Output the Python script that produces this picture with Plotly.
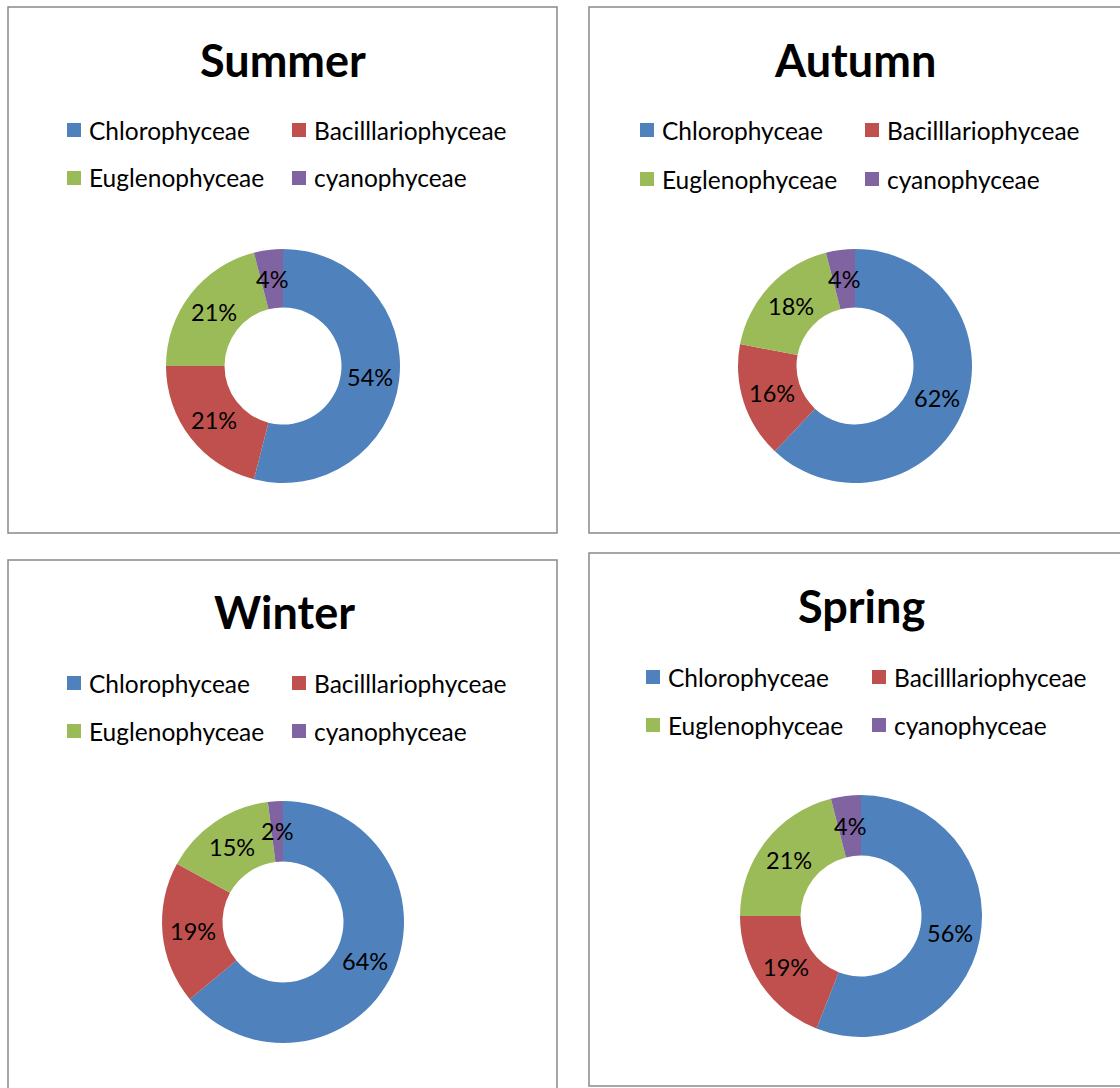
import math
import plotly.graph_objects as go

# Phytoplankton class composition (%) by season
categories = ["Chlorophyceae", "Bacilllariophyceae", "Euglenophyceae", "cyanophyceae"]
seasons = ["Summer", "Autumn", "Winter", "Spring"]
summer = [54, 21, 21, 4]
autumn = [62, 16, 18, 4]
winter = [64, 19, 15, 2]
spring = [56, 19, 21, 4]
colors = ["#4F81BD", "#C0504D", "#9BBB59", "#8064A2"]

W, H = 1120, 1088
FONT = "Lato"
HOLE = 0.5

# panel geometry in pixels (left, top, right, bottom), donut centre / radius,
# title centre, legend anchor (swatch left x for both columns, row centres)
panels = [
    dict(values=summer, box=(8, 7, 557, 533), c=(283, 366), r=117, t=(283, 60), lg=(67, 130, 292, 178)),
    dict(values=autumn, box=(589, 7, 1126, 533), c=(855, 366), r=117, t=(855, 60), lg=(640, 130, 865, 179)),
    dict(values=winter, box=(8, 560, 557, 1096), c=(283, 922), r=121, t=(284, 612), lg=(67, 683, 292, 731)),
    dict(values=spring, box=(589, 553, 1126, 1086), c=(861, 916), r=121, t=(861, 606), lg=(646, 677, 872, 725)),
]


def px(x):
    return x / W


def py(y):
    return 1 - y / H


fig = go.Figure()
shapes = []
annotations = []

for name, p in zip(seasons, panels):
    cx, cy = p["c"]
    r = p["r"]
    vals = p["values"]
    fig.add_trace(go.Pie(
        labels=categories,
        values=vals,
        name=name,
        hole=HOLE,
        sort=False,
        direction="clockwise",
        rotation=0,
        marker=dict(colors=colors, line=dict(width=0)),
        textinfo="none",
        showlegend=False,
        domain=dict(x=[px(cx - r), px(cx + r)], y=[py(cy + r), py(cy - r)]),
    ))

    # percentage labels centred in the ring, at each slice's mid-angle
    total = float(sum(vals))
    r_mid = r * (1 + HOLE) / 2
    acc = 0.0
    for v in vals:
        mid = (acc + v / 2) / total * 2 * math.pi
        acc += v
        lx = cx + r_mid * math.sin(mid)
        ly = cy - r_mid * math.cos(mid)
        annotations.append(dict(text="%d%%" % round(100 * v / total), x=px(lx), y=py(ly),
                                xref="paper", yref="paper", showarrow=False,
                                xanchor="center", yanchor="middle",
                                font=dict(family=FONT, size=23.5, color="black")))

    x0, y0, x1, y1 = p["box"]
    shapes.append(dict(type="rect", xref="paper", yref="paper",
                       x0=px(x0), x1=px(x1), y0=py(y1), y1=py(y0),
                       line=dict(color="#898989", width=1.5), fillcolor="rgba(0,0,0,0)"))

    tx, ty = p["t"]
    annotations.append(dict(text="<b>%s</b>" % name, x=px(tx), y=py(ty), xref="paper", yref="paper",
                            showarrow=False, xanchor="center", yanchor="middle",
                            font=dict(family=FONT, size=45, color="black")))

    # two-column legend
    ax1, ay1, ax2, ay2 = p["lg"]
    spots = [(ax1, ay1), (ax2, ay1), (ax1, ay2), (ax2, ay2)]
    for (sx, sy), lab, col in zip(spots, categories, colors):
        shapes.append(dict(type="rect", xref="paper", yref="paper",
                           x0=px(sx), x1=px(sx + 14), y0=py(sy + 7), y1=py(sy - 7),
                           line=dict(width=0), fillcolor=col))
        annotations.append(dict(text=lab, x=px(sx + 20), y=py(sy), xref="paper", yref="paper",
                                showarrow=False, xanchor="left", yanchor="middle",
                                font=dict(family=FONT, size=24.5, color="black")))

fig.update_layout(
    width=W, height=H,
    margin=dict(l=0, r=0, t=0, b=0),
    paper_bgcolor="white",
    plot_bgcolor="white",
    shapes=shapes,
    annotations=annotations,
)

fig.write_html("out.html")
